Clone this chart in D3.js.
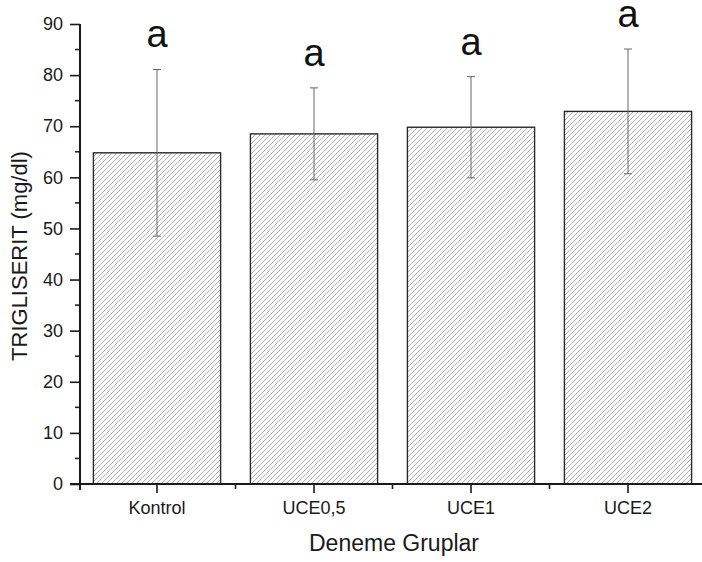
<!DOCTYPE html>
<html>
<head>
<meta charset="utf-8">
<script src="https://cdn.jsdelivr.net/npm/d3@7"></script>
<style>
  body { margin: 0; background: #fff; }
  svg { display: block; font-family: Arial, 'Liberation Sans', sans-serif; }
</style>
</head>
<body>
<div id="chart"></div>
<script>
const groups = ['Kontrol', 'UCE0,5', 'UCE1', 'UCE2']
const means = [64.8, 68.5, 69.8, 72.9]
const sds = [16.3, 9.0, 9.9, 12.2]
const letters = ['a', 'a', 'a', 'a']
const yTicks = [0, 10, 20, 30, 40, 50, 60, 70, 80, 90]
const yMinor = [5, 15, 25, 35, 45, 55, 65, 75, 85]

const W = 702
const H = 562
const x0 = 80, y0 = 484, yTop = 24

const svg = d3.select('#chart')
  .append('svg')
  .attr('width', W)
  .attr('height', H)

const data = groups.map((g, i) => ({ g: g, m: means[i], sd: sds[i], l: letters[i] }))

const x = d3.scaleBand()
  .domain(groups)
  .range([78.5, 706.5])
  .paddingInner(0.19)
  .paddingOuter(0.095)

const y = d3.scaleLinear().domain([0, 90]).range([y0, yTop])

// diagonal hatch
const defs = svg.append('defs')
const pat = defs.append('pattern')
  .attr('id', 'hatch')
  .attr('patternUnits', 'userSpaceOnUse')
  .attr('width', 5)
  .attr('height', 5)
pat.append('rect').attr('width', 5).attr('height', 5).attr('fill', '#fff')
pat.append('path')
  .attr('d', 'M-1,1 l2,-2 M0,5 l5,-5 M4,6 l2,-2')
  .attr('stroke', '#9a9a9a')
  .attr('stroke-width', 0.75)

// bars
svg.selectAll('rect.bar')
  .data(data)
  .enter()
  .append('rect')
  .attr('class', 'bar')
  .attr('x', d => x(d.g))
  .attr('y', d => y(d.m))
  .attr('width', x.bandwidth())
  .attr('height', d => y0 - y(d.m))
  .attr('fill', 'url(#hatch)')
  .attr('stroke', '#2a2a2a')
  .attr('stroke-width', 1.4)

// error bars
const cx = d => x(d.g) + x.bandwidth() / 2
const eb = svg.selectAll('g.err').data(data).enter().append('g').attr('class', 'err')
  .attr('stroke', '#666').attr('stroke-width', 1)
eb.append('line')
  .attr('x1', cx).attr('x2', cx)
  .attr('y1', d => y(d.m + d.sd)).attr('y2', d => y(d.m - d.sd))
eb.append('line')
  .attr('x1', d => cx(d) - 4).attr('x2', d => cx(d) + 4)
  .attr('y1', d => y(d.m + d.sd)).attr('y2', d => y(d.m + d.sd))
eb.append('line')
  .attr('x1', d => cx(d) - 4).attr('x2', d => cx(d) + 4)
  .attr('y1', d => y(d.m - d.sd)).attr('y2', d => y(d.m - d.sd))

// significance letters
svg.selectAll('text.letter')
  .data(data)
  .enter()
  .append('text')
  .attr('class', 'letter')
  .attr('x', cx)
  .attr('y', d => y(d.m + d.sd) - 22)
  .attr('text-anchor', 'middle')
  .attr('font-size', 38)
  .attr('fill', '#111')
  .text(d => d.l)

// y axis
const yAxis = svg.append('g')
  .attr('transform', `translate(${x0},0)`)
  .call(d3.axisLeft(y).tickValues(yTicks).tickSize(10).tickPadding(7).tickFormat(d3.format('d')))
yAxis.selectAll('g.minor')
  .data(yMinor)
  .enter()
  .append('line')
  .attr('x1', 0).attr('x2', -5)
  .attr('y1', d => y(d)).attr('y2', d => y(d))
  .attr('stroke', '#222').attr('stroke-width', 1.6)
yAxis.select('.domain').remove()
yAxis.append('line')
  .attr('x1', 0).attr('x2', 0)
  .attr('y1', yTop).attr('y2', y0 + 6)
  .attr('stroke', '#1a1a1a').attr('stroke-width', 2)
yAxis.selectAll('.tick line').attr('stroke', '#1a1a1a').attr('stroke-width', 1.6)
yAxis.selectAll('.tick text').attr('font-size', 18).attr('fill', '#1a1a1a')
  .attr('font-family', "Arial, 'Liberation Sans', sans-serif")

// x axis
const xAxis = svg.append('g')
  .attr('transform', `translate(0,${y0})`)
  .call(d3.axisBottom(x).tickSize(9).tickPadding(8))
xAxis.select('.domain').remove()
xAxis.append('line')
  .attr('x1', x0 - 10).attr('x2', W)
  .attr('y1', 0).attr('y2', 0)
  .attr('stroke', '#1a1a1a').attr('stroke-width', 2)
xAxis.selectAll('.tick line').attr('stroke', '#1a1a1a').attr('stroke-width', 1.6)
xAxis.selectAll('.tick text').attr('font-size', 18).attr('fill', '#1a1a1a')
  .attr('font-family', "Arial, 'Liberation Sans', sans-serif")
const mids = groups.slice(1).map(g => x(g) - x.step() * x.paddingInner() / 2)
xAxis.selectAll('line.minor')
  .data(mids)
  .enter()
  .append('line')
  .attr('class', 'minor')
  .attr('x1', d => d).attr('x2', d => d)
  .attr('y1', 0).attr('y2', 5)
  .attr('stroke', '#1a1a1a').attr('stroke-width', 1.6)

// axis titles
svg.append('text')
  .attr('x', (x0 + W) / 2 + 3)
  .attr('y', 551)
  .attr('text-anchor', 'middle')
  .attr('font-size', 23)
  .attr('fill', '#1a1a1a')
  .text('Deneme Gruplar')

svg.append('text')
  .attr('transform', `translate(27,${(yTop + y0) / 2 + 2}) rotate(-90)`)
  .attr('text-anchor', 'middle')
  .attr('font-size', 22)
  .attr('fill', '#1a1a1a')
  .text('TRIGLISERIT (mg/dl)')
</script>
</body>
</html>
